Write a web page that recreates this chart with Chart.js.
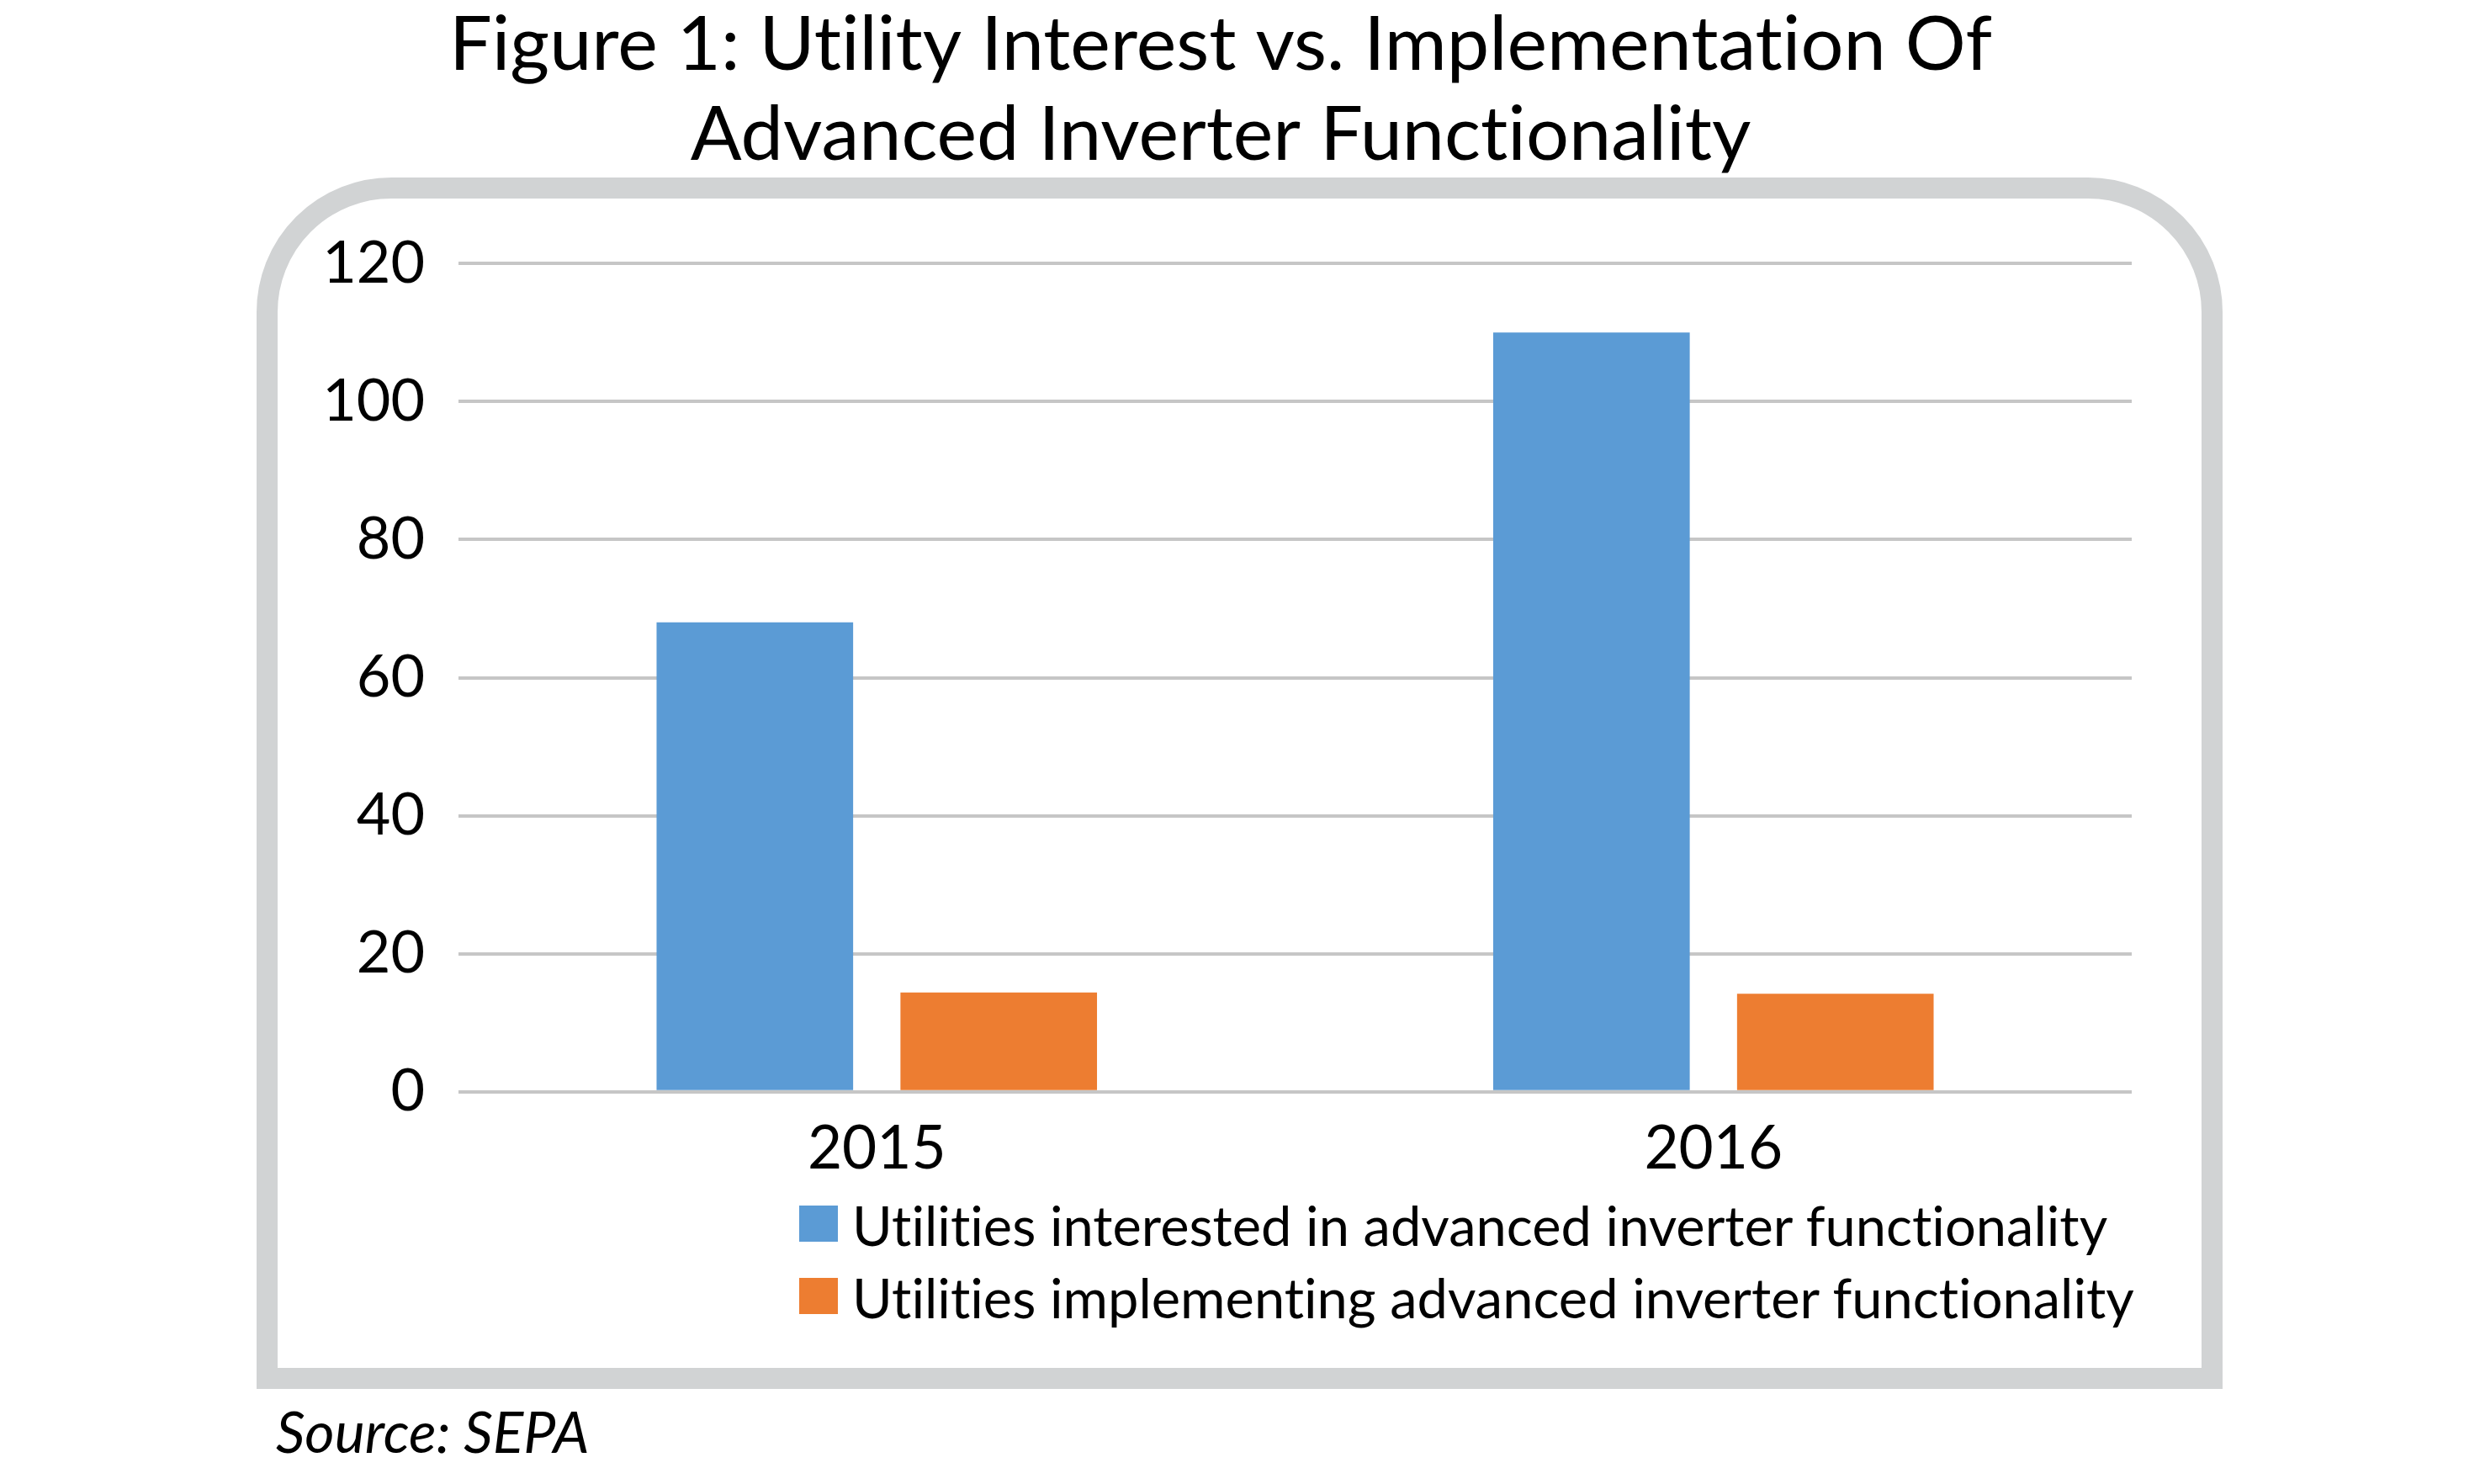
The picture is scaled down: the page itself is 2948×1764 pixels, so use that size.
<!DOCTYPE html>
<html>
<head>
<meta charset="utf-8">
<script src="https://cdn.jsdelivr.net/npm/chart.js@4/dist/chart.umd.min.js"></script>
<style>
html,body{margin:0;padding:0;background:#fff;}
body{width:2948px;height:1764px;position:relative;overflow:hidden;font-family:Lato,sans-serif;color:#000;font-variant-ligatures:none;}
#frame{position:absolute;left:305px;top:211px;width:2337px;height:1440px;box-sizing:border-box;border:25px solid #d1d3d4;border-radius:160px 160px 0 0;}
#c{position:absolute;left:0;top:0;}
#legend{position:absolute;left:950px;top:1413px;}
.item{display:flex;align-items:flex-start;height:86px;line-height:86px;font-size:65px;white-space:nowrap;}
.sw{width:46px;height:43px;margin-top:20px;margin-right:17px;flex:none;}
#source{position:absolute;left:328px;top:1661px;font-style:italic;font-size:68px;line-height:80px;}
</style>
</head>
<body>
<div id="frame"></div>
<canvas id="c" width="2948" height="1764"></canvas>
<div id="legend"></div>
<div id="source"></div>
<script>
const categories = ['2015', '2016'];
const interested = [68, 110];
const implementing = [14.4, 14.2];
const seriesNames = [
  'Utilities interested in advanced inverter functionality',
  'Utilities implementing advanced inverter functionality'
];
const seriesColors = ['#5b9bd5', '#ed7d31'];
const yTicks = [0, 20, 40, 60, 80, 100, 120];
const titleLines = ['Figure 1: Utility Interest vs. Implementation Of', 'Advanced Inverter Functionality'];
const sourceText = 'Source: SEPA';

function draw() {
  const chart = new Chart(document.getElementById('c'), {
    type: 'bar',
    data: {
      labels: categories,
      datasets: [
        { label: seriesNames[0], data: interested, backgroundColor: seriesColors[0], borderWidth: 0 },
        { label: seriesNames[1], data: implementing, backgroundColor: seriesColors[1], borderWidth: 0 }
      ]
    },
    options: {
      responsive: false,
      animation: false,
      devicePixelRatio: 1,
      layout: { padding: { left: 368, right: 414, top: 0, bottom: 337 } },
      datasets: { bar: { categoryPercentage: 0.583, barPercentage: 0.806 } },
      plugins: {
        legend: { display: false },
        tooltip: { enabled: false },
        title: {
          display: true,
          text: titleLines,
          color: '#000',
          font: { family: 'Lato', size: 90, weight: 'normal', lineHeight: 1.19 },
          padding: { top: 0, bottom: 99 }
        }
      },
      scales: {
        x: {
          grid: { display: false },
          border: { display: false },
          ticks: { color: '#000', font: { family: 'Lato', size: 71 }, padding: 18 }
        },
        y: {
          min: 0,
          max: 120,
          afterFit(s) { s.width = 177; },
          afterBuildTicks(s) { s.ticks = yTicks.map(v => ({ value: v })); },
          grid: { color: '#c6c6c6', lineWidth: 4, drawTicks: false },
          border: { display: false },
          ticks: { color: '#000', font: { family: 'Lato', size: 70 }, padding: 40 }
        }
      }
    }
  });

  const leg = document.getElementById('legend');
  chart.data.datasets.forEach(ds => {
    const it = document.createElement('div');
    it.className = 'item';
    const sw = document.createElement('span');
    sw.className = 'sw';
    sw.style.background = ds.backgroundColor;
    const tx = document.createElement('span');
    tx.textContent = ds.label;
    it.appendChild(sw);
    it.appendChild(tx);
    leg.appendChild(it);
  });
  document.getElementById('source').textContent = sourceText;
}

Promise.all([
  document.fonts.load('90px Lato'),
  document.fonts.load('italic 68px Lato')
]).then(draw, draw);
</script>
</body>
</html>
